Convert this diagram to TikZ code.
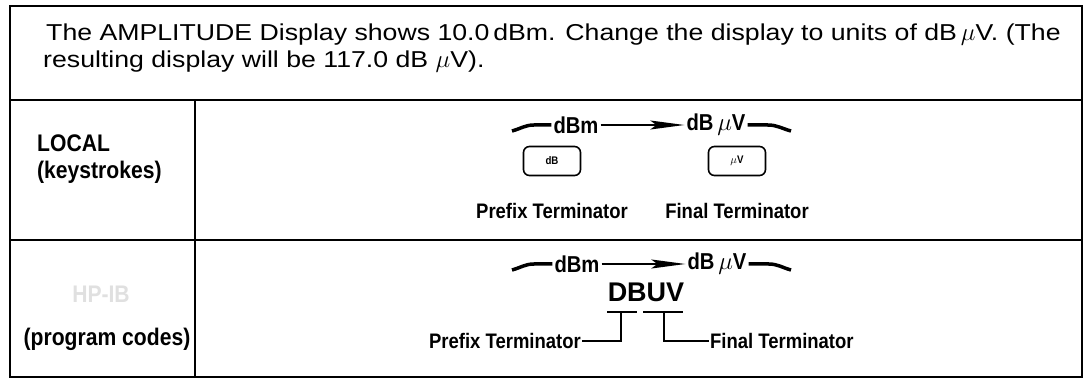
\documentclass[tikz,border=0pt]{standalone}
\usepackage{fontspec}
\setmainfont{Liberation Sans}
\newfontfamily\ancha[FakeStretch=1.16]{Liberation Sans}
\newfontfamily\estrecha[FakeStretch=0.88]{Liberation Sans}
\usetikzlibrary{arrows.meta,positioning,calc}

\begin{document}
\begin{tikzpicture}[x=1pt,y=-1pt,
  marco/.style={line width=2pt},
  enunciado/.style={anchor=base west,inner sep=0pt,font=\ancha\fontsize{23}{27}\selectfont},
  rotulo/.style={anchor=west,align=left,inner sep=0pt,
                 font=\estrecha\bfseries\fontsize{24}{27}\selectfont},
  unidad/.style={inner sep=2pt,font=\estrecha\bfseries\fontsize{23}{26}\selectfont},
  tecla/.style={draw,line width=1.6pt,rounded corners=6pt,minimum width=57pt,
                minimum height=29pt,font=\estrecha\bfseries\fontsize{11}{12}\selectfont},
  nota/.style={inner sep=1pt,font=\estrecha\bfseries\fontsize{21}{24}\selectfont},
  trazo/.style={line width=3.5pt},
  flecha/.style={-{Stealth[length=34pt,width=9pt,inset=6pt]},line width=1.5pt},
  corchete/.style={line width=1.8pt}
]
\useasboundingbox (0,0) rectangle (1088,379);

% cuadro
\draw[marco] (10,6) rectangle (1082,377);
\draw[marco] (10,100) -- (1082,100);
\draw[marco] (10,240) -- (1082,240);
\draw[marco] (195,100) -- (195,377);

% enunciado
\node[enunciado] (linea1) at (46,41) {The AMPLITUDE Display shows 10.0\,dBm. Change the display to units of dB\,$\mu$V. (The};
\node[enunciado] (linea2) at (43,68) {resulting display will be 117.0 dB $\mu$V).};

% columna izquierda
\node[rotulo] (local) at (37,159) {LOCAL\\(keystrokes)};
\node[rotulo,anchor=center,text=black!12] (hpib) at (101,294) {HP-IB};
\node[rotulo,anchor=center] (programa) at (107,339) {(program codes)};

% fila LOCAL
\node[unidad] (dBmLocal) at (576,125) {dBm};
\node[unidad] (dBuvLocal) at (716,125) {dB\,$\mu$V};
\coordinate (iniLocal) at (512,131);
\coordinate (finLocal) at (791,131);
\draw[trazo] (iniLocal) to[out=15,in=180] ++(22,-6) -- (dBmLocal.west);
\draw[flecha] (dBmLocal.east) -- (dBuvLocal.west);
\draw[trazo] (dBuvLocal.east) -- ++(20,0) to[out=0,in=165] (finLocal);

\node[tecla] (teclaDB) at (552,161) {dB};
\node[tecla] (teclaUV) at (737,161) {$\mu$V};
\node[nota,below=26pt of teclaDB] (prefijoLocal) {Prefix Terminator};
\node[nota,below=26pt of teclaUV] (finalLocal) {Final Terminator};

% fila HP-IB
\node[unidad] (dBmProg) at (577,264) {dBm};
\node[unidad] (dBuvProg) at (717,264) {dB\,$\mu$V};
\coordinate (iniProg) at (512,270);
\coordinate (finProg) at (791,270);
\draw[trazo] (iniProg) to[out=15,in=180] ++(22,-6) -- (dBmProg.west);
\draw[flecha] (dBmProg.east) -- (dBuvProg.west);
\draw[trazo] (dBuvProg.east) -- ++(20,0) to[out=0,in=165] (finProg);

\node[inner sep=0pt,font=\bfseries\fontsize{27}{30}\selectfont] (codigo) at (646,292) {DBUV};
\node[nota,anchor=east] (prefijoProg) at (582,341) {Prefix Terminator};
\node[nota,anchor=west] (finalProg) at (709,341) {Final Terminator};
\coordinate (subDB) at (621,312);
\coordinate (subUV) at (664,312);
\draw[corchete] ([xshift=-14pt]subDB) -- ([xshift=16pt]subDB);
\draw[corchete] ([xshift=-21pt]subUV) -- ([xshift=19pt]subUV);
\draw[corchete] (subDB) |- (prefijoProg.east);
\draw[corchete] (subUV) |- (finalProg.west);
\end{tikzpicture}
\end{document}
